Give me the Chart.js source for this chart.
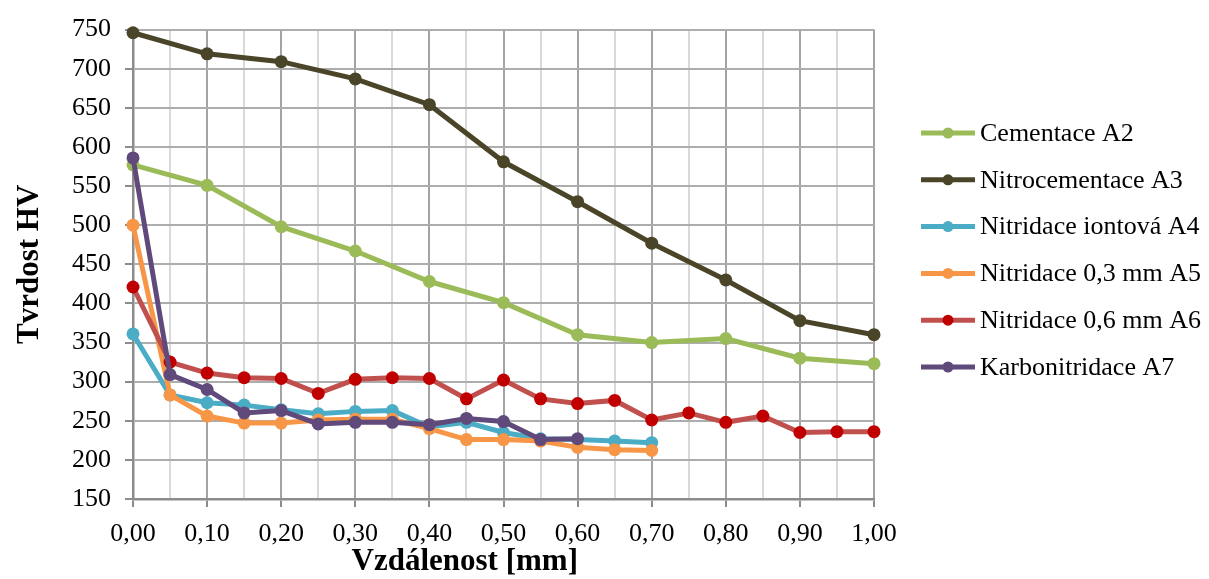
<!DOCTYPE html>
<html>
<head>
<meta charset="utf-8">
<script src="https://cdn.jsdelivr.net/npm/chart.js@4.4.1/dist/chart.umd.min.js"></script>
<style>
  html, body { margin: 0; padding: 0; background: #ffffff; }
  canvas { display: block; }
</style>
</head>
<body>
<canvas id="c" width="1209" height="579"></canvas>
<script>
// ---- data ----
const xCoarse = [0.00, 0.10, 0.20, 0.30, 0.40, 0.50, 0.60, 0.70, 0.80, 0.90, 1.00];
const xFine   = [0.00, 0.05, 0.10, 0.15, 0.20, 0.25, 0.30, 0.35, 0.40, 0.45, 0.50,
                 0.55, 0.60, 0.65, 0.70, 0.75, 0.80, 0.85, 0.90, 0.95, 1.00];
const xTo070  = [0.00, 0.05, 0.10, 0.15, 0.20, 0.25, 0.30, 0.35, 0.40, 0.45, 0.50,
                 0.55, 0.60, 0.65, 0.70];
const xTo060  = [0.00, 0.05, 0.10, 0.15, 0.20, 0.25, 0.30, 0.35, 0.40, 0.45, 0.50,
                 0.55, 0.60];

const cementaceA2      = [577, 551, 498, 467, 428, 401, 360, 350, 355, 330, 323];
const nitrocementaceA3 = [746, 719, 709, 687, 654, 581, 530, 477, 430, 378, 360];
const nitridaceIontA4  = [361, 283, 273, 270, 264, 259, 262, 263, 242, 248, 235, 227, 226, 224, 222];
const nitridace03A5    = [500, 283, 256, 247, 247, 251, 252, 252, 240, 226, 226, 224, 216, 213, 212];
const nitridace06A6    = [421, 325, 311, 305, 304, 285, 303, 305, 304, 278, 302,
                          278, 272, 276, 251, 260, 248, 256, 235, 236, 236];
const karbonitridaceA7 = [586, 309, 290, 260, 263, 246, 248, 248, 245, 253, 249, 226, 227];

const seriesLabels = ['Cementace A2', 'Nitrocementace A3', 'Nitridace iontová A4',
                      'Nitridace 0,3 mm A5', 'Nitridace 0,6 mm A6', 'Karbonitridace A7'];
const yTicks = [150, 200, 250, 300, 350, 400, 450, 500, 550, 600, 650, 700, 750];
const xTickLabels = ['0,00', '0,10', '0,20', '0,30', '0,40', '0,50', '0,60', '0,70', '0,80', '0,90', '1,00'];
const xAxisTitle = 'Vzdálenost [mm]';
const yAxisTitle = 'Tvrdost HV';

// ---- styles ----
const lineColors   = ['#9BBB59', '#4A4529', '#4BACC6', '#F79646', '#C0504D', '#604A7B'];
const markerColors = ['#9BBB59', '#4A4529', '#4BACC6', '#F79646', '#C00000', '#604A7B'];
const FONT = "'Liberation Serif', 'Times New Roman', serif";

function pts(xs, ys) { return xs.map((x, i) => ({x: x, y: ys[i]})); }

const seriesData = [
  pts(xCoarse, cementaceA2),
  pts(xCoarse, nitrocementaceA3),
  pts(xTo070, nitridaceIontA4),
  pts(xTo070, nitridace03A5),
  pts(xFine, nitridace06A6),
  pts(xTo060, karbonitridaceA7)
];

const datasets = seriesData.map((d, i) => ({
  label: seriesLabels[i],
  data: d,
  borderColor: lineColors[i],
  backgroundColor: markerColors[i],
  pointBackgroundColor: markerColors[i],
  pointBorderColor: markerColors[i],
  pointBorderWidth: 0,
  pointRadius: 6.5,
  borderWidth: 5,
  tension: 0,
  fill: false,
  clip: false,
  order: seriesLabels.length - i
}));

function isMajor(v) { return Math.round(v * 100) % 10 === 0; }
function xLabel(v) {
  const idx = Math.round(v * 10);
  return isMajor(v) ? xTickLabels[idx] : '';
}

const legendPlugin = {
  id: 'sideLegend',
  afterDraw(chart) {
    const ctx = chart.ctx;
    const ds = chart.data.datasets;
    ctx.save();
    ctx.font = '26px ' + FONT;
    ctx.textBaseline = 'middle';
    ctx.textAlign = 'left';
    for (let i = 0; i < ds.length; i++) {
      const y = 133 + i * 46.8;
      ctx.strokeStyle = ds[i].borderColor;
      ctx.lineWidth = 5;
      ctx.lineCap = 'butt';
      ctx.beginPath();
      ctx.moveTo(921, y);
      ctx.lineTo(975, y);
      ctx.stroke();
      ctx.fillStyle = ds[i].pointBackgroundColor;
      ctx.beginPath();
      ctx.arc(948, y, 5.5, 0, Math.PI * 2);
      ctx.fill();
      ctx.fillStyle = '#000000';
      ctx.fillText(ds[i].label, 980, y + 1);
    }
    ctx.restore();
  }
};

new Chart(document.getElementById('c'), {
  type: 'line',
  data: { datasets: datasets },
  options: {
    responsive: false,
    animation: false,
    devicePixelRatio: 1,
    layout: { padding: { left: 0, right: 335, top: 26, bottom: 0 } },
    plugins: {
      legend: { display: false },
      tooltip: { enabled: false }
    },
    scales: {
      x: {
        type: 'linear',
        min: 0,
        max: 1,
        afterFit(scale) { scale.height = 80; },
        afterBuildTicks(scale) {
          scale.ticks = xFine.map(v => ({value: v}));
        },
        ticks: {
          autoSkip: false,
          maxRotation: 0,
          minRotation: 0,
          padding: 12,
          color: '#000000',
          font: { family: FONT, size: 26 },
          callback: (v) => xLabel(v)
        },
        grid: {
          color: (c) => (c.tick && isMajor(c.tick.value)) ? '#a3a3a3' : '#d9d9d9',
          lineWidth: 2,
          tickLength: 8,
          tickColor: (c) => (c.tick && isMajor(c.tick.value)) ? '#8c8c8c' : 'rgba(0,0,0,0)',
          tickWidth: 2
        },
        border: { color: '#8c8c8c', width: 2.5 },
        title: {
          display: true,
          text: xAxisTitle + '\u00a0\u00a0\u00a0\u00a0\u00a0\u00a0\u00a0\u00a0\u00a0\u00a0',
          color: '#000000',
          font: { family: FONT, size: 31, weight: 'bold', lineHeight: 1.1 },
          padding: { top: 0, bottom: 0 }
        }
      },
      y: {
        type: 'linear',
        min: 150,
        max: 750,
        afterFit(scale) { scale.width = 133; },
        afterBuildTicks(scale) {
          scale.ticks = yTicks.map(v => ({value: v}));
        },
        ticks: {
          padding: 14,
          color: '#000000',
          font: { family: FONT, size: 26 },
          callback: (v) => String(v)
        },
        grid: {
          color: '#adadad',
          lineWidth: 2,
          tickLength: 8,
          tickColor: '#8c8c8c',
          tickWidth: 2
        },
        border: { color: '#8c8c8c', width: 2.5 },
        title: {
          display: true,
          text: yAxisTitle,
          color: '#000000',
          font: { family: FONT, size: 31, weight: 'bold' },
          padding: { top: 11, bottom: 0 }
        }
      }
    }
  },
  plugins: [legendPlugin]
});
</script>
</body>
</html>
